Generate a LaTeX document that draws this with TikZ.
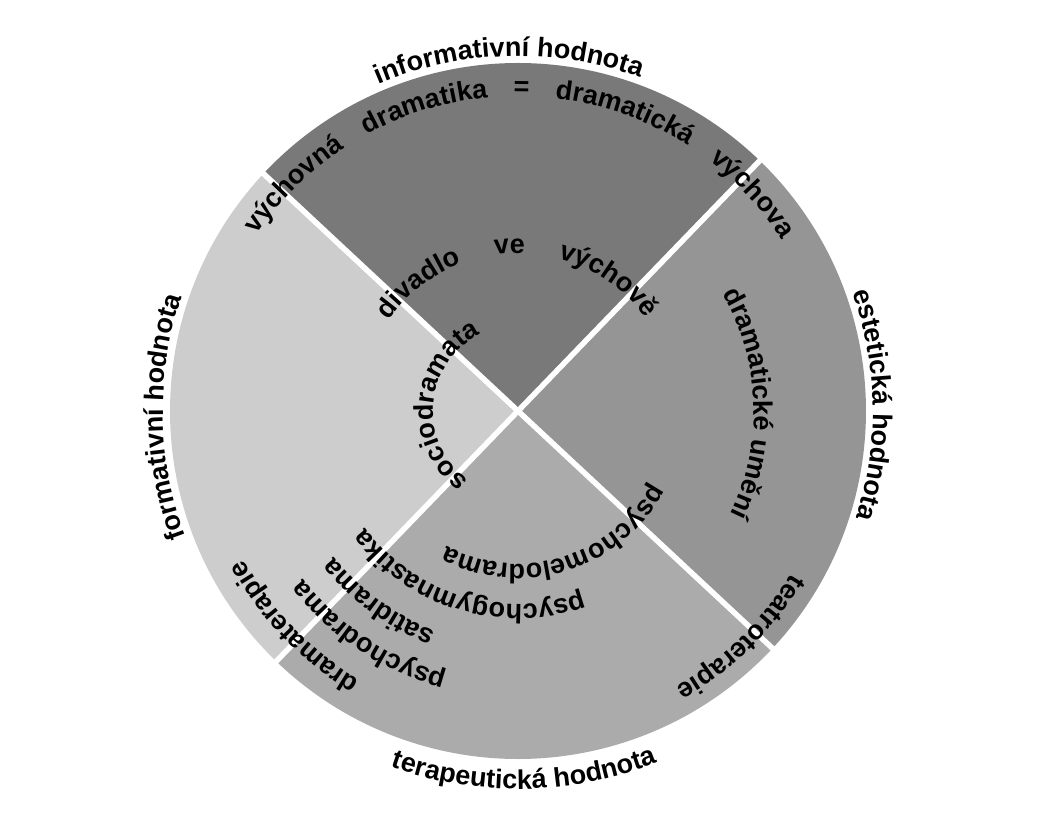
\documentclass[tikz,border=0pt]{standalone}
\usepackage{fontspec}
\setmainfont{Liberation Sans}
\usetikzlibrary{decorations.text}
\definecolor{topgray}{RGB}{121,121,121}
\definecolor{rightgray}{RGB}{149,149,149}
\definecolor{bottomgray}{RGB}{171,171,171}
\definecolor{leftgray}{RGB}{205,205,205}
\tikzset{
  curved/.style={decorate, decoration={text along path, text={#1}, text align=center}},
  stretched/.style={decorate, decoration={text along path, text={#1}, text align=fit to path stretching spaces}},
  divider/.style={white, line width=5.5pt},
}
\begin{document}
\fontsize{27}{32}\selectfont\bfseries
\begin{tikzpicture}[x=1pt,y=1pt]
  \useasboundingbox (-518,-413) rectangle (536,411);
  % the four sectors
  \fill[topgray] (0,0) -- (46:348pt) arc[start angle=46, end angle=137, radius=348pt] -- cycle;
  \fill[rightgray] (0,0) -- (-43:348pt) arc[start angle=-43, end angle=46, radius=348pt] -- cycle;
  \fill[bottomgray] (0,0) -- (226:348pt) arc[start angle=226, end angle=317, radius=348pt] -- cycle;
  \fill[leftgray] (0,0) -- (137:348pt) arc[start angle=137, end angle=226, radius=348pt] -- cycle;
  \draw[divider] (137:349pt) -- (317:349pt);
  \draw[divider] (46:349pt) -- (226:349pt);
  % outer labels
  \path[curved={informativní hodnota}] (130:355pt) arc[start angle=130, end angle=53, radius=355pt];
  \path[curved={estetická hodnota}] (40:355pt) arc[start angle=40, end angle=-38, radius=355pt];
  \path[curved={formativní hodnota}] (220:355pt) arc[start angle=220, end angle=142, radius=355pt];
  \path[curved={terapeutická hodnota}] (230:378pt) arc[start angle=230, end angle=312, radius=378pt];
  % top sector
  \path[stretched={výchovná dramatika = dramatická výchova}] (146:315pt) arc[start angle=146, end angle=33, radius=315pt];
  \path[stretched={divadlo ve výchově}] (145:158pt) arc[start angle=145, end angle=36, radius=158pt];
  % left and right
  \path[curved={sociodramata}] (245:85pt) arc[start angle=245, end angle=105, radius=85pt];
  \path[curved={dramatické umění}] (40:236pt) arc[start angle=40, end angle=-36, radius=236pt];
  % bottom sector
  \path[curved={teatroterapie}] (-15:318pt) arc[start angle=-15, end angle=-76, radius=318pt];
  \path[curved={psychomelodrama}] (340:153pt) arc[start angle=340, end angle=234, radius=153pt];
  \path[curved={psychogymnastika}] (300:193pt) arc[start angle=300, end angle=207, radius=193pt];
  \path[curved={satidrama}] (260:235pt) arc[start angle=260, end angle=208, radius=235pt];
  \path[curved={psychodrama}] (265:273pt) arc[start angle=265, end angle=208, radius=273pt];
  \path[curved={dramaterapie}] (250:312pt) arc[start angle=250, end angle=198, radius=312pt];
\end{tikzpicture}
\end{document}
